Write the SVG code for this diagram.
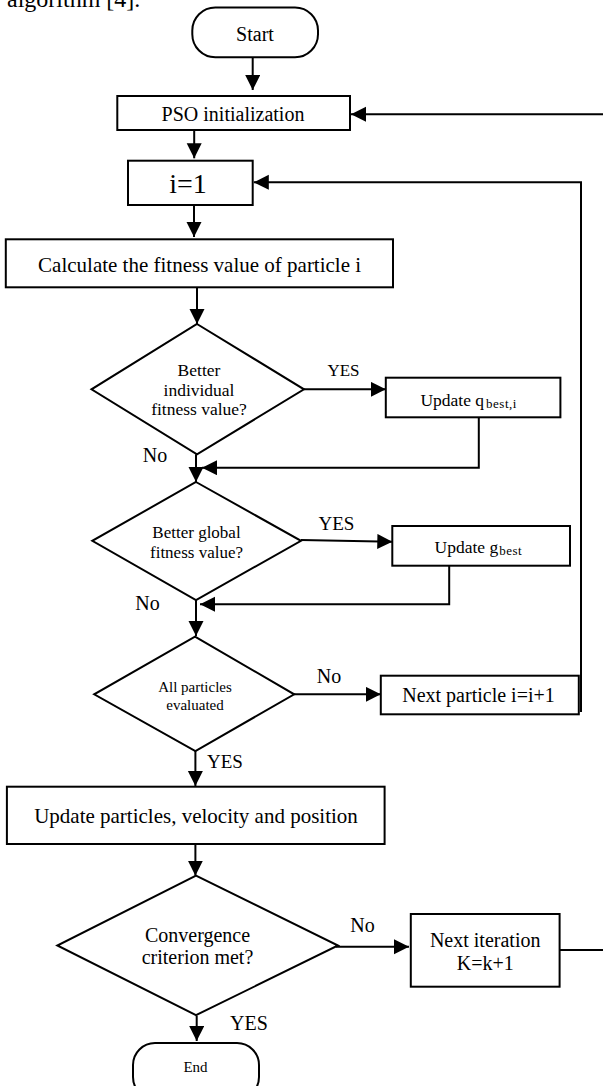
<svg xmlns="http://www.w3.org/2000/svg" width="603" height="1086" viewBox="0 0 603 1086">
  <defs>
    <marker id="arrow" markerUnits="userSpaceOnUse" markerWidth="16" markerHeight="16" refX="15" refY="7.5" orient="auto">
      <path d="M0,0 L15,7.5 L0,15 Z" fill="#000"/>
    </marker>
    <style>
      .box { fill: #fff; stroke: #000; stroke-width: 2; }
      .term { fill: #fff; stroke: #000; stroke-width: 2; }
      .dec { fill: #fff; stroke: #000; stroke-width: 2; stroke-linejoin: miter; }
      .edge { fill: none; stroke: #000; stroke-width: 2; }
      .arr { marker-end: url(#arrow); }
      text { font-family: "Liberation Serif", "Times New Roman", serif; fill: #000; }
      .c { text-anchor: middle; }
      .sub { font-size: 13px; letter-spacing: 0.5px; }
    </style>
  </defs>
  <rect width="603" height="1086" fill="#fff"/>

  <!-- running text above the chart, clipped at the top edge -->
  <text x="7" y="7" font-size="24">algorithm [4].</text>

  <!-- connectors -->
  <g id="connectors">
    <path class="edge arr" d="M252.7,57.3 V90"/>
    <path class="edge arr" d="M194.2,130 V158.3"/>
    <path class="edge arr" d="M194,205 V237"/>
    <path class="edge arr" d="M197,287.3 V324"/>
    <path class="edge arr" d="M304,389.3 H385.8"/>
    <path class="edge arr" d="M478.8,417.3 V467.7 H202"/>
    <path class="edge arr" d="M196,454.3 V482"/>
    <path class="edge arr" d="M301,540 L392.3,541.7"/>
    <path class="edge arr" d="M449.2,565.7 V604.3 H200"/>
    <path class="edge arr" d="M196,600 V636"/>
    <path class="edge arr" d="M294,694.3 H380.8"/>
    <path class="edge arr" d="M581,712 V182.3 H253.8"/>
    <path class="edge arr" d="M195.4,751 V786"/>
    <path class="edge arr" d="M195.4,844 V875.7"/>
    <path class="edge arr" d="M336,946.7 H409"/>
    <path class="edge" d="M559.6,950 H603"/>
    <path class="edge arr" d="M603,114.3 H351"/>
    <path class="edge arr" d="M196.7,1015.7 V1041"/>

    <!-- branch labels -->
    <text x="343.5" y="375.7" font-size="17" class="c">YES</text>
    <text x="155" y="461.7" font-size="20" class="c">No</text>
    <text x="336.5" y="530" font-size="19" class="c">YES</text>
    <text x="147.5" y="610" font-size="20" class="c">No</text>
    <text x="329" y="683" font-size="20" class="c">No</text>
    <text x="225" y="768.3" font-size="19" class="c">YES</text>
    <text x="362.5" y="931.7" font-size="20" class="c">No</text>
    <text x="249" y="1030" font-size="20" class="c">YES</text>
  </g>

  <g id="start">
    <rect class="term" x="192.3" y="7.5" width="125.7" height="49.8" rx="23" ry="23"/>
    <text x="255" y="41.3" font-size="20" class="c">Start</text>
  </g>

  <g id="pso-init">
    <rect class="box" x="117.3" y="96" width="232.7" height="34"/>
    <text x="233" y="120.7" font-size="20" class="c">PSO initialization</text>
  </g>

  <g id="i-init">
    <rect class="box" x="128" y="160.7" width="124.7" height="44.3"/>
    <text x="188" y="193.3" font-size="28" class="c">i=1</text>
  </g>

  <g id="fitness">
    <rect class="box" x="5.8" y="239.3" width="387.2" height="48"/>
    <text x="199.6" y="271.7" font-size="21" class="c">Calculate the fitness value of particle i</text>
  </g>

  <g id="decide-individual">
    <polygon class="dec" points="197,324 304,389.3 197,454.3 91.5,389.3"/>
    <text x="199" y="375.7" font-size="17.5" class="c">Better</text>
    <text x="199" y="395.7" font-size="17.5" class="c">individual</text>
    <text x="199" y="415" font-size="17.5" class="c">fitness value?</text>
  </g>

  <g id="update-pbest">
    <rect class="box" x="385.8" y="377.7" width="174.6" height="39.6"/>
    <text x="420.4" y="405.7" font-size="17.5">Update q<tspan class="sub" dx="2" dy="2">best,i</tspan></text>
  </g>

  <g id="decide-global">
    <polygon class="dec" points="196,482 301,540.8 196,600 92.3,540.8"/>
    <text x="196.5" y="538.3" font-size="17" class="c">Better global</text>
    <text x="196.5" y="558.3" font-size="17" class="c">fitness value?</text>
  </g>

  <g id="update-gbest">
    <rect class="box" x="392.3" y="526" width="177.7" height="39.7"/>
    <text x="434.6" y="552.7" font-size="17.5">Update g<tspan class="sub" dx="1" dy="2">best</tspan></text>
  </g>

  <g id="decide-all">
    <polygon class="dec" points="195,636.7 294.2,694.3 195.4,751 94.2,694.3"/>
    <text x="195" y="691.7" font-size="15" class="c">All particles</text>
    <text x="195" y="710" font-size="15" class="c">evaluated</text>
  </g>

  <g id="next-particle">
    <rect class="box" x="380.8" y="675.7" width="198" height="38.6"/>
    <text x="478.5" y="702.3" font-size="20" class="c">Next particle i=i+1</text>
  </g>

  <g id="update-particles">
    <rect class="box" x="6.9" y="786.7" width="377.7" height="57.3"/>
    <text x="196" y="823.3" font-size="21" class="c">Update particles, velocity and position</text>
  </g>

  <g id="decide-convergence">
    <polygon class="dec" points="196,875.7 338,945.5 196,1015.2 57.3,945.5"/>
    <text x="197.5" y="941.7" font-size="20" class="c">Convergence</text>
    <text x="197.5" y="964" font-size="20" class="c">criterion met?</text>
  </g>

  <g id="next-iteration">
    <rect class="box" x="410.8" y="914" width="148.8" height="72.7"/>
    <text x="485.2" y="946.7" font-size="20" class="c">Next iteration</text>
    <text x="485.2" y="970" font-size="20" class="c">K=k+1</text>
  </g>

  <g id="end">
    <rect class="term" x="133" y="1043" width="126" height="56" rx="22" ry="22"/>
    <text x="195.5" y="1071.7" font-size="15" class="c">End</text>
  </g>
</svg>
